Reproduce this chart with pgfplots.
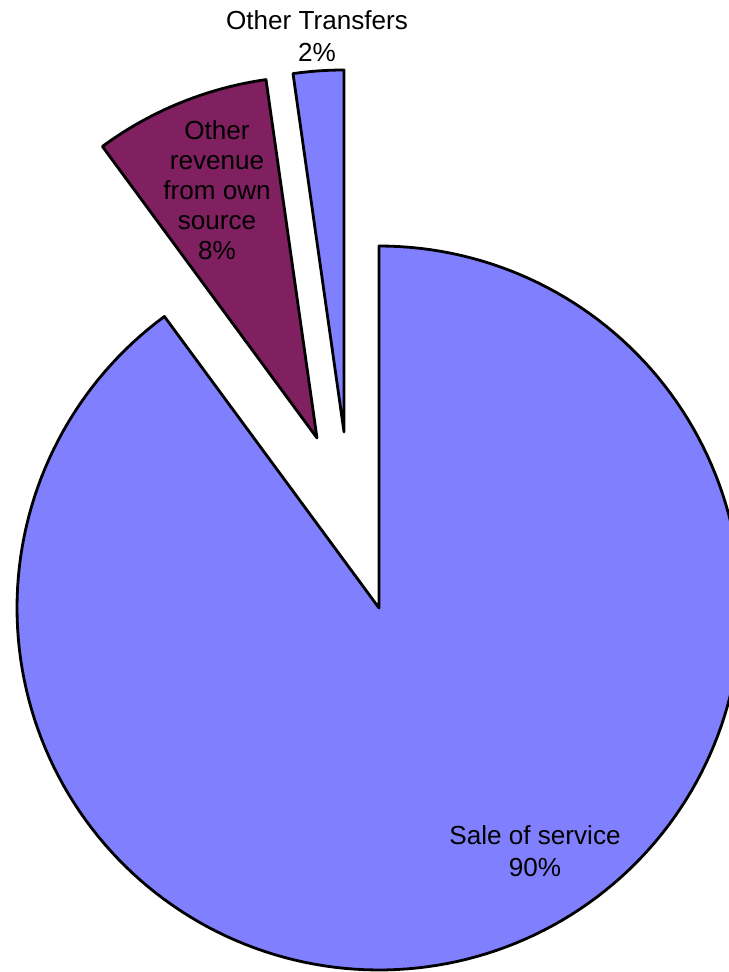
\documentclass[border=0pt]{standalone}
\usepackage{fontspec}
\setmainfont{Liberation Sans}
\usepackage{pgfplots}
\pgfplotsset{compat=1.18}
\definecolor{periw}{RGB}{128,128,255}
\definecolor{plum}{RGB}{128,32,96}
\begin{document}
\begin{tikzpicture}
% shares in percent
\def\pSale{89.9}\def\pOwn{7.85}\def\pTrans{2.25}
\pgfmathsetmacro{\aA}{90}
\pgfmathsetmacro{\aB}{90+3.6*\pTrans}
\pgfmathsetmacro{\aC}{\aB+3.6*\pOwn}
\pgfmathsetmacro{\aD}{\aC+3.6*\pSale}
\begin{axis}[scale only axis, width=364.5bp, height=486bp,
  xmin=0, xmax=729, ymin=0, ymax=972, axis lines=none, clip=true,
  samples=200, line join=round]
\addplot[draw=black, line width=1.4bp, fill=periw, domain=\aC:\aD]
  ({379+362*cos(x)},{364+362*sin(x)}) -- (axis cs:379,364) -- cycle;
\addplot[draw=black, line width=1.4bp, fill=plum, domain=\aB:\aC]
  ({317+362*cos(x)},{534+362*sin(x)}) -- (axis cs:317,534) -- cycle;
\addplot[draw=black, line width=1.4bp, fill=periw, domain=\aA:\aB]
  ({344+362*cos(x)},{540+362*sin(x)}) -- (axis cs:344,540) -- cycle;
\node[font=\fontsize{13.1}{16}\selectfont, align=center] at (axis cs:317,936) {Other Transfers\\2\%};
\node[font=\fontsize{13.1}{15}\selectfont, align=center] at (axis cs:217,782) {Other\\revenue\\from own\\source\\8\%};
\node[font=\fontsize{13.1}{16}\selectfont, align=center] at (axis cs:535,121) {Sale of service\\90\%};
\path (rel axis cs:0,0) rectangle (rel axis cs:1,1);
\end{axis}
\end{tikzpicture}
\end{document}
